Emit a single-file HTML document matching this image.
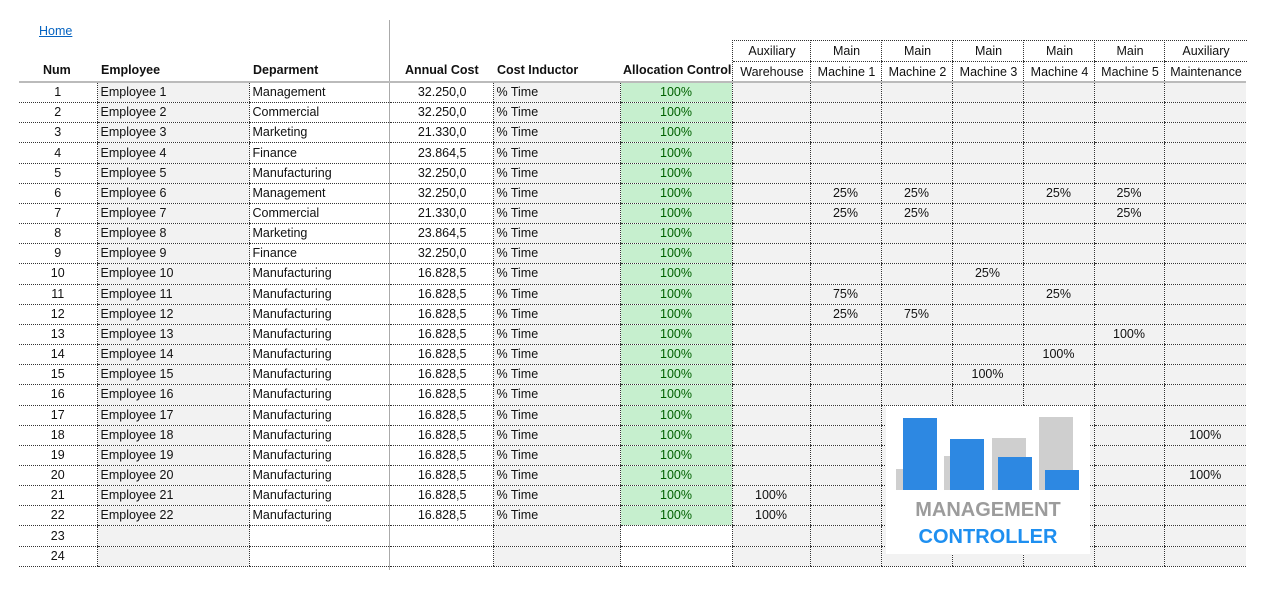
<!DOCTYPE html>
<html><head><meta charset="utf-8"><style>
body{margin:0;width:1271px;height:602px;background:#fff;position:relative;overflow:hidden;font-family:"Liberation Sans",sans-serif;font-size:12.5px;color:#111}
.a{position:absolute}
table{border-collapse:collapse;table-layout:fixed;position:absolute;left:19px;top:81px;border-top:2px solid #bbb}
td{height:19.17px;padding:0 3px;border-bottom:1px dotted #333;border-left:1px dotted #333;white-space:nowrap;overflow:hidden;line-height:19px}
td:first-child{border-left:none;text-align:center}
.g{background:#f2f2f2}
.r{text-align:right;padding-right:26px;border-left:1px solid #aaa}
.al{background:#c6efce;color:#006100;text-align:center}
.c{text-align:center;background:#f2f2f2}
.w{background:#fff;text-align:center}
.h{font-weight:bold;top:63px;font-size:12.5px}
.hd{position:absolute;top:40px;height:40px;border-left:1px dotted #333;border-top:1px dotted #333;text-align:center;line-height:20px;font-size:12.5px}
.hd div{border-bottom:1px dotted #333;height:20px}
</style></head><body>
<div class="a" style="left:39px;top:24px;color:#0563c1;text-decoration:underline;font-size:12.5px">Home</div>
<div class="a" style="left:389px;top:20px;width:1px;height:550px;background:#aaa"></div>
<div class="a h" style="left:43px">Num</div>
<div class="a h" style="left:101px">Employee</div>
<div class="a h" style="left:253px">Deparment</div>
<div class="a h" style="left:405px">Annual Cost</div>
<div class="a h" style="left:497px">Cost Inductor</div>
<div class="a h" style="left:623px;width:109px;overflow:hidden;white-space:nowrap">Allocation Control</div>
<div class="hd" style="left:732px;width:78px"><div>Auxiliary</div><div>Warehouse</div></div>
<div class="hd" style="left:810px;width:71px"><div>Main</div><div>Machine 1</div></div>
<div class="hd" style="left:881px;width:71px"><div>Main</div><div>Machine 2</div></div>
<div class="hd" style="left:952px;width:71px"><div>Main</div><div>Machine 3</div></div>
<div class="hd" style="left:1023px;width:71px"><div>Main</div><div>Machine 4</div></div>
<div class="hd" style="left:1094px;width:70px"><div>Main</div><div>Machine 5</div></div>
<div class="hd" style="left:1164px;width:82px;overflow:hidden;white-space:nowrap"><div>Auxiliary</div><div>Maintenance</div></div>
<table>
<colgroup><col style="width:78px"><col style="width:152px"><col style="width:140px"><col style="width:104px"><col style="width:127px"><col style="width:112px"><col style="width:78px"><col style="width:71px"><col style="width:71px"><col style="width:71px"><col style="width:71px"><col style="width:70px"><col style="width:82px"></colgroup>
<tr><td>1</td><td class="g">Employee 1</td><td>Management</td><td class="r">32.250,0</td><td class="g">% Time</td><td class="al">100%</td><td class="c"></td><td class="c"></td><td class="c"></td><td class="c"></td><td class="c"></td><td class="c"></td><td class="c"></td></tr>
<tr><td>2</td><td class="g">Employee 2</td><td>Commercial</td><td class="r">32.250,0</td><td class="g">% Time</td><td class="al">100%</td><td class="c"></td><td class="c"></td><td class="c"></td><td class="c"></td><td class="c"></td><td class="c"></td><td class="c"></td></tr>
<tr><td>3</td><td class="g">Employee 3</td><td>Marketing</td><td class="r">21.330,0</td><td class="g">% Time</td><td class="al">100%</td><td class="c"></td><td class="c"></td><td class="c"></td><td class="c"></td><td class="c"></td><td class="c"></td><td class="c"></td></tr>
<tr><td>4</td><td class="g">Employee 4</td><td>Finance</td><td class="r">23.864,5</td><td class="g">% Time</td><td class="al">100%</td><td class="c"></td><td class="c"></td><td class="c"></td><td class="c"></td><td class="c"></td><td class="c"></td><td class="c"></td></tr>
<tr><td>5</td><td class="g">Employee 5</td><td>Manufacturing</td><td class="r">32.250,0</td><td class="g">% Time</td><td class="al">100%</td><td class="c"></td><td class="c"></td><td class="c"></td><td class="c"></td><td class="c"></td><td class="c"></td><td class="c"></td></tr>
<tr><td>6</td><td class="g">Employee 6</td><td>Management</td><td class="r">32.250,0</td><td class="g">% Time</td><td class="al">100%</td><td class="c"></td><td class="c">25%</td><td class="c">25%</td><td class="c"></td><td class="c">25%</td><td class="c">25%</td><td class="c"></td></tr>
<tr><td>7</td><td class="g">Employee 7</td><td>Commercial</td><td class="r">21.330,0</td><td class="g">% Time</td><td class="al">100%</td><td class="c"></td><td class="c">25%</td><td class="c">25%</td><td class="c"></td><td class="c"></td><td class="c">25%</td><td class="c"></td></tr>
<tr><td>8</td><td class="g">Employee 8</td><td>Marketing</td><td class="r">23.864,5</td><td class="g">% Time</td><td class="al">100%</td><td class="c"></td><td class="c"></td><td class="c"></td><td class="c"></td><td class="c"></td><td class="c"></td><td class="c"></td></tr>
<tr><td>9</td><td class="g">Employee 9</td><td>Finance</td><td class="r">32.250,0</td><td class="g">% Time</td><td class="al">100%</td><td class="c"></td><td class="c"></td><td class="c"></td><td class="c"></td><td class="c"></td><td class="c"></td><td class="c"></td></tr>
<tr><td>10</td><td class="g">Employee 10</td><td>Manufacturing</td><td class="r">16.828,5</td><td class="g">% Time</td><td class="al">100%</td><td class="c"></td><td class="c"></td><td class="c"></td><td class="c">25%</td><td class="c"></td><td class="c"></td><td class="c"></td></tr>
<tr><td>11</td><td class="g">Employee 11</td><td>Manufacturing</td><td class="r">16.828,5</td><td class="g">% Time</td><td class="al">100%</td><td class="c"></td><td class="c">75%</td><td class="c"></td><td class="c"></td><td class="c">25%</td><td class="c"></td><td class="c"></td></tr>
<tr><td>12</td><td class="g">Employee 12</td><td>Manufacturing</td><td class="r">16.828,5</td><td class="g">% Time</td><td class="al">100%</td><td class="c"></td><td class="c">25%</td><td class="c">75%</td><td class="c"></td><td class="c"></td><td class="c"></td><td class="c"></td></tr>
<tr><td>13</td><td class="g">Employee 13</td><td>Manufacturing</td><td class="r">16.828,5</td><td class="g">% Time</td><td class="al">100%</td><td class="c"></td><td class="c"></td><td class="c"></td><td class="c"></td><td class="c"></td><td class="c">100%</td><td class="c"></td></tr>
<tr><td>14</td><td class="g">Employee 14</td><td>Manufacturing</td><td class="r">16.828,5</td><td class="g">% Time</td><td class="al">100%</td><td class="c"></td><td class="c"></td><td class="c"></td><td class="c"></td><td class="c">100%</td><td class="c"></td><td class="c"></td></tr>
<tr><td>15</td><td class="g">Employee 15</td><td>Manufacturing</td><td class="r">16.828,5</td><td class="g">% Time</td><td class="al">100%</td><td class="c"></td><td class="c"></td><td class="c"></td><td class="c">100%</td><td class="c"></td><td class="c"></td><td class="c"></td></tr>
<tr><td>16</td><td class="g">Employee 16</td><td>Manufacturing</td><td class="r">16.828,5</td><td class="g">% Time</td><td class="al">100%</td><td class="c"></td><td class="c"></td><td class="c"></td><td class="c"></td><td class="c"></td><td class="c"></td><td class="c"></td></tr>
<tr><td>17</td><td class="g">Employee 17</td><td>Manufacturing</td><td class="r">16.828,5</td><td class="g">% Time</td><td class="al">100%</td><td class="c"></td><td class="c"></td><td class="c"></td><td class="c"></td><td class="c"></td><td class="c"></td><td class="c"></td></tr>
<tr><td>18</td><td class="g">Employee 18</td><td>Manufacturing</td><td class="r">16.828,5</td><td class="g">% Time</td><td class="al">100%</td><td class="c"></td><td class="c"></td><td class="c"></td><td class="c"></td><td class="c"></td><td class="c"></td><td class="c">100%</td></tr>
<tr><td>19</td><td class="g">Employee 19</td><td>Manufacturing</td><td class="r">16.828,5</td><td class="g">% Time</td><td class="al">100%</td><td class="c"></td><td class="c"></td><td class="c"></td><td class="c"></td><td class="c"></td><td class="c"></td><td class="c"></td></tr>
<tr><td>20</td><td class="g">Employee 20</td><td>Manufacturing</td><td class="r">16.828,5</td><td class="g">% Time</td><td class="al">100%</td><td class="c"></td><td class="c"></td><td class="c"></td><td class="c"></td><td class="c"></td><td class="c"></td><td class="c">100%</td></tr>
<tr><td>21</td><td class="g">Employee 21</td><td>Manufacturing</td><td class="r">16.828,5</td><td class="g">% Time</td><td class="al">100%</td><td class="c">100%</td><td class="c"></td><td class="c"></td><td class="c"></td><td class="c"></td><td class="c"></td><td class="c"></td></tr>
<tr><td>22</td><td class="g">Employee 22</td><td>Manufacturing</td><td class="r">16.828,5</td><td class="g">% Time</td><td class="al">100%</td><td class="c">100%</td><td class="c"></td><td class="c"></td><td class="c"></td><td class="c"></td><td class="c"></td><td class="c"></td></tr>
<tr><td>23</td><td class="g"></td><td></td><td class="r"></td><td class="g"></td><td class="w"></td><td class="c"></td><td class="c"></td><td class="c"></td><td class="c"></td><td class="c"></td><td class="c"></td><td class="c"></td></tr>
<tr><td>24</td><td class="g"></td><td></td><td class="r"></td><td class="g"></td><td class="w"></td><td class="c"></td><td class="c"></td><td class="c"></td><td class="c"></td><td class="c"></td><td class="c"></td><td class="c"></td></tr>
</table>
<div class="a" style="left:886px;top:406px;width:204px;height:148px;background:#fff">
<svg width="204" height="148" style="position:absolute;left:0;top:0">
<rect x="10" y="63" width="7" height="21" fill="#cfcfcf"/>
<rect x="17" y="12" width="34" height="72" fill="#2d88e2"/>
<rect x="58" y="50" width="6" height="34" fill="#cfcfcf"/>
<rect x="64" y="33" width="34" height="51" fill="#2d88e2"/>
<rect x="106" y="32" width="34" height="52" fill="#cfcfcf"/>
<rect x="112" y="51" width="34" height="33" fill="#2d88e2"/>
<rect x="153" y="11" width="34" height="73" fill="#cfcfcf"/>
<rect x="159" y="64" width="34" height="20" fill="#2d88e2"/>
<text x="102" y="110" text-anchor="middle" font-family="Liberation Sans" font-weight="bold" font-size="20" fill="#9c9c9c">MANAGEMENT</text>
<text x="102" y="137" text-anchor="middle" font-family="Liberation Sans" font-weight="bold" font-size="20" fill="#1e8ff0">CONTROLLER</text>
</svg></div>
</body></html>
